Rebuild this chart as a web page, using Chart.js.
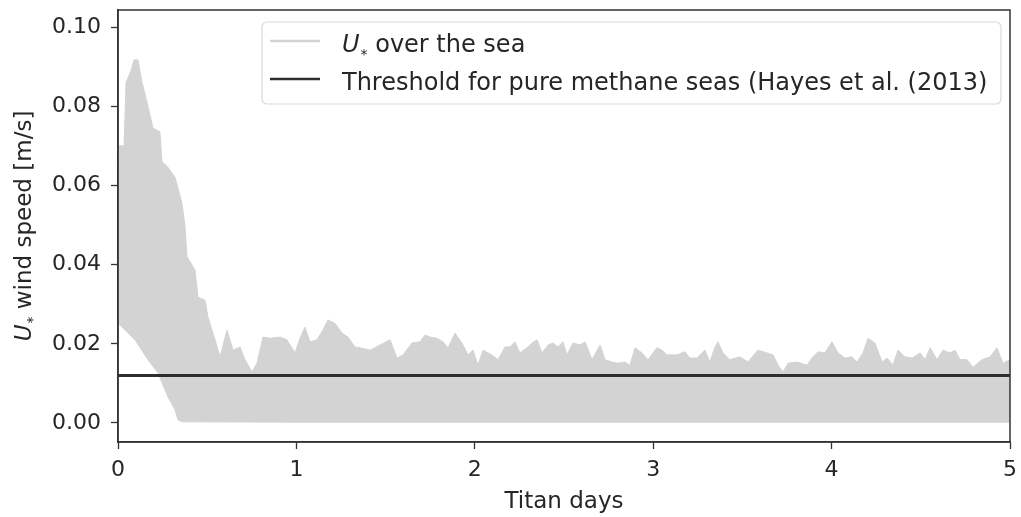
<!DOCTYPE html>
<html>
<head>
<meta charset="utf-8">
<title>Titan wind speed</title>
<script src="https://cdn.jsdelivr.net/npm/chart.js@4/dist/chart.umd.min.js"></script>
<style>
  html, body { margin: 0; padding: 0; background: #fff; }
  #windChart { display: block; }
</style>
</head>
<body>
<canvas id="windChart" width="1021" height="517"></canvas>
<script>
// Upper envelope of U* over the sea (Titan days, m/s)
const upperDays = [0.006, 0.034, 0.045, 0.073, 0.090, 0.112, 0.135, 0.168, 0.196, 0.235,
    0.247, 0.280, 0.320, 0.359, 0.376, 0.387, 0.432, 0.448, 0.488, 0.504,
    0.544, 0.572, 0.611, 0.645, 0.684, 0.712, 0.751, 0.779, 0.813, 0.852,
    0.908, 0.947, 0.992, 1.020, 1.048, 1.076, 1.115, 1.149, 1.177, 1.216,
    1.256, 1.289, 1.328, 1.357, 1.413, 1.469, 1.525, 1.564, 1.598, 1.648,
    1.693, 1.721, 1.749, 1.788, 1.822, 1.850, 1.889, 1.928, 1.962, 1.990,
    2.018, 2.046, 2.096, 2.130, 2.169, 2.197, 2.225, 2.253, 2.293, 2.321,
    2.349, 2.377, 2.410, 2.438, 2.466, 2.494, 2.517, 2.550, 2.590, 2.618,
    2.657, 2.702, 2.730, 2.769, 2.803, 2.842, 2.870, 2.898, 2.937, 2.971,
    3.021, 3.049, 3.077, 3.133, 3.178, 3.206, 3.245, 3.290, 3.318, 3.346,
    3.363, 3.391, 3.430, 3.487, 3.531, 3.587, 3.638, 3.672, 3.700, 3.728,
    3.756, 3.806, 3.862, 3.890, 3.924, 3.963, 4.002, 4.036, 4.075, 4.114,
    4.142, 4.176, 4.204, 4.243, 4.283, 4.311, 4.344, 4.372, 4.411, 4.451,
    4.496, 4.524, 4.552, 4.591, 4.624, 4.664, 4.692, 4.720, 4.759, 4.793,
    4.843, 4.888, 4.927, 4.961, 5.000];
const upperSpeed = [0.0700, 0.0700, 0.0860, 0.0890, 0.0917, 0.0917, 0.0860, 0.0800, 0.0745, 0.0735,
    0.0660, 0.0646, 0.0620, 0.0555, 0.0495, 0.0420, 0.0386, 0.0318, 0.0310, 0.0268,
    0.0210, 0.0167, 0.0235, 0.0184, 0.0192, 0.0160, 0.0129, 0.0151, 0.0217, 0.0214,
    0.0217, 0.0210, 0.0177, 0.0214, 0.0242, 0.0205, 0.0210, 0.0235, 0.0260, 0.0252,
    0.0227, 0.0217, 0.0192, 0.0190, 0.0184, 0.0197, 0.0210, 0.0164, 0.0172, 0.0202,
    0.0205, 0.0222, 0.0217, 0.0214, 0.0205, 0.0190, 0.0227, 0.0202, 0.0172, 0.0184,
    0.0146, 0.0184, 0.0172, 0.0160, 0.0192, 0.0192, 0.0205, 0.0177, 0.0190, 0.0202,
    0.0210, 0.0177, 0.0197, 0.0202, 0.0192, 0.0205, 0.0172, 0.0202, 0.0197, 0.0205,
    0.0160, 0.0197, 0.0160, 0.0154, 0.0151, 0.0154, 0.0146, 0.0190, 0.0177, 0.0160,
    0.0190, 0.0184, 0.0172, 0.0172, 0.0180, 0.0164, 0.0164, 0.0184, 0.0154, 0.0192,
    0.0205, 0.0177, 0.0160, 0.0167, 0.0154, 0.0184, 0.0177, 0.0172, 0.0146, 0.0129,
    0.0151, 0.0154, 0.0146, 0.0164, 0.0180, 0.0177, 0.0205, 0.0177, 0.0164, 0.0167,
    0.0154, 0.0177, 0.0214, 0.0202, 0.0154, 0.0164, 0.0146, 0.0184, 0.0167, 0.0164,
    0.0177, 0.0160, 0.0190, 0.0160, 0.0184, 0.0177, 0.0184, 0.0160, 0.0160, 0.0141,
    0.0160, 0.0167, 0.0190, 0.0151, 0.0160];

// Lower envelope of U* over the sea
const lowerDays = [0.006, 0.039, 0.095, 0.168, 0.224, 0.280, 0.320, 0.336, 0.359, 1.000, 2.000, 3.000, 4.000, 5.000];
const lowerSpeed = [0.0250, 0.0235, 0.0210, 0.0160, 0.0126, 0.0066, 0.0033, 0.0008, 0.0003, 0.0002, 0.0002, 0.0002, 0.0002, 0.0002];

// Threshold for pure methane seas
const thresholdDays = [0, 5];
const thresholdSpeed = [0.012, 0.012];

// Axis ticks
const xTicks = [0, 1, 2, 3, 4, 5];
const yTicks = [0.00, 0.02, 0.04, 0.06, 0.08, 0.10];

const FONT = "'DejaVu Sans', sans-serif";
const TEXT_COLOR = '#262626';
const AXIS_COLOR = '#333';

function toPoints(xs, ys) {
    return xs.map((x, i) => ({ x: x, y: ys[i] }));
}

/**
 * Draw "U" italic followed by a small subscript star, then the rest of the text
 */
function drawUStar(ctx, x, y, rest, size) {
    ctx.font = 'italic ' + size + 'px ' + FONT;
    ctx.fillText('U', x, y);
    x += ctx.measureText('U').width + 1;
    ctx.font = Math.round(size * 0.6) + 'px ' + FONT;
    ctx.fillText('*', x, y + size * 0.28);
    x += ctx.measureText('*').width;
    ctx.font = size + 'px ' + FONT;
    ctx.fillText(rest, x, y);
}

function uStarWidth(ctx, rest, size) {
    ctx.font = 'italic ' + size + 'px ' + FONT;
    let w = ctx.measureText('U').width + 1;
    ctx.font = Math.round(size * 0.6) + 'px ' + FONT;
    w += ctx.measureText('*').width;
    ctx.font = size + 'px ' + FONT;
    w += ctx.measureText(rest).width;
    return w;
}

const annotationsPlugin = {
    id: 'annotations',
    afterDraw(chart) {
        const ctx = chart.ctx;
        const area = chart.chartArea;
        ctx.save();

        // full frame around the plot area
        ctx.strokeStyle = AXIS_COLOR;
        ctx.lineWidth = 1.5;
        ctx.strokeRect(area.left, area.top, area.right - area.left, area.bottom - area.top);

        ctx.fillStyle = TEXT_COLOR;
        ctx.textBaseline = 'alphabetic';
        ctx.textAlign = 'left';

        // x axis title
        ctx.font = '23px ' + FONT;
        ctx.textAlign = 'center';
        ctx.fillText('Titan days', (area.left + area.right) / 2, 508);
        ctx.textAlign = 'left';

        // y axis title (rotated)
        ctx.save();
        ctx.translate(31, (area.top + area.bottom) / 2);
        ctx.rotate(-Math.PI / 2);
        const yw = uStarWidth(ctx, ' wind speed [m/s]', 23);
        drawUStar(ctx, -yw / 2, 0, ' wind speed [m/s]', 23);
        ctx.restore();

        // legend box
        const bx = 262, by = 22, bw = 739, bh = 82, r = 5;
        ctx.beginPath();
        ctx.moveTo(bx + r, by);
        ctx.arcTo(bx + bw, by, bx + bw, by + bh, r);
        ctx.arcTo(bx + bw, by + bh, bx, by + bh, r);
        ctx.arcTo(bx, by + bh, bx, by, r);
        ctx.arcTo(bx, by, bx + bw, by, r);
        ctx.closePath();
        ctx.fillStyle = 'rgba(255,255,255,0.8)';
        ctx.fill();
        ctx.strokeStyle = '#d9d9d9';
        ctx.lineWidth = 1.2;
        ctx.stroke();

        // legend samples
        ctx.lineWidth = 2.6;
        ctx.strokeStyle = '#d3d3d3';
        ctx.beginPath();
        ctx.moveTo(270, 41);
        ctx.lineTo(320, 41);
        ctx.stroke();
        ctx.strokeStyle = '#2e2e2e';
        ctx.beginPath();
        ctx.moveTo(270, 79);
        ctx.lineTo(320, 79);
        ctx.stroke();

        // legend labels
        ctx.fillStyle = TEXT_COLOR;
        drawUStar(ctx, 342, 52, ' over the sea', 24);
        ctx.font = '24px ' + FONT;
        ctx.fillText('Threshold for pure methane seas (Hayes et al. (2013)', 342, 90);
        ctx.restore();
    }
};

const ctx = document.getElementById('windChart');

new Chart(ctx, {
    type: 'line',
    data: {
        datasets: [
            {
                label: 'Threshold for pure methane seas (Hayes et al. (2013)',
                data: toPoints(thresholdDays, thresholdSpeed),
                borderColor: '#2e2e2e',
                borderWidth: 3,
                pointRadius: 0,
                fill: false,
                order: 0
            },
            {
                label: 'U* over the sea',
                data: toPoints(upperDays, upperSpeed),
                borderColor: '#d3d3d3',
                backgroundColor: '#d3d3d3',
                borderWidth: 1,
                pointRadius: 0,
                tension: 0,
                fill: '+1',
                order: 1
            },
            {
                label: 'lower',
                data: toPoints(lowerDays, lowerSpeed),
                borderColor: '#d3d3d3',
                borderWidth: 1,
                pointRadius: 0,
                tension: 0,
                fill: false,
                order: 2
            }
        ]
    },
    options: {
        responsive: false,
        devicePixelRatio: 1,
        animation: false,
        layout: {
            padding: { top: 10, right: 11, left: 0, bottom: 0 }
        },
        plugins: {
            legend: { display: false },
            tooltip: { enabled: false }
        },
        scales: {
            x: {
                type: 'linear',
                min: 0,
                max: 5,
                afterBuildTicks: function (scale) {
                    scale.ticks = xTicks.map(v => ({ value: v }));
                },
                afterFit: function (scale) {
                    scale.height = 75;
                    scale.paddingLeft = 0;
                    scale.paddingRight = 0;
                },
                ticks: {
                    font: { size: 22, family: FONT },
                    color: TEXT_COLOR,
                    padding: 8,
                    maxRotation: 0,
                    callback: function (value) {
                        return String(value);
                    }
                },
                grid: {
                    drawOnChartArea: false,
                    tickLength: 7,
                    tickColor: AXIS_COLOR,
                    tickWidth: 1.3
                },
                border: { color: AXIS_COLOR, width: 1.5 }
            },
            y: {
                type: 'linear',
                min: -0.0048,
                max: 0.1043,
                afterBuildTicks: function (scale) {
                    scale.ticks = yTicks.map(v => ({ value: v }));
                },
                afterFit: function (scale) {
                    scale.width = 118;
                    scale.paddingTop = 0;
                    scale.paddingBottom = 0;
                },
                ticks: {
                    font: { size: 22, family: FONT },
                    color: TEXT_COLOR,
                    padding: 10,
                    callback: function (value) {
                        return value.toFixed(2);
                    }
                },
                grid: {
                    drawOnChartArea: false,
                    tickLength: 7,
                    tickColor: AXIS_COLOR,
                    tickWidth: 1.3
                },
                border: { color: AXIS_COLOR, width: 1.5 }
            }
        }
    },
    plugins: [annotationsPlugin]
});
</script>
</body>
</html>
